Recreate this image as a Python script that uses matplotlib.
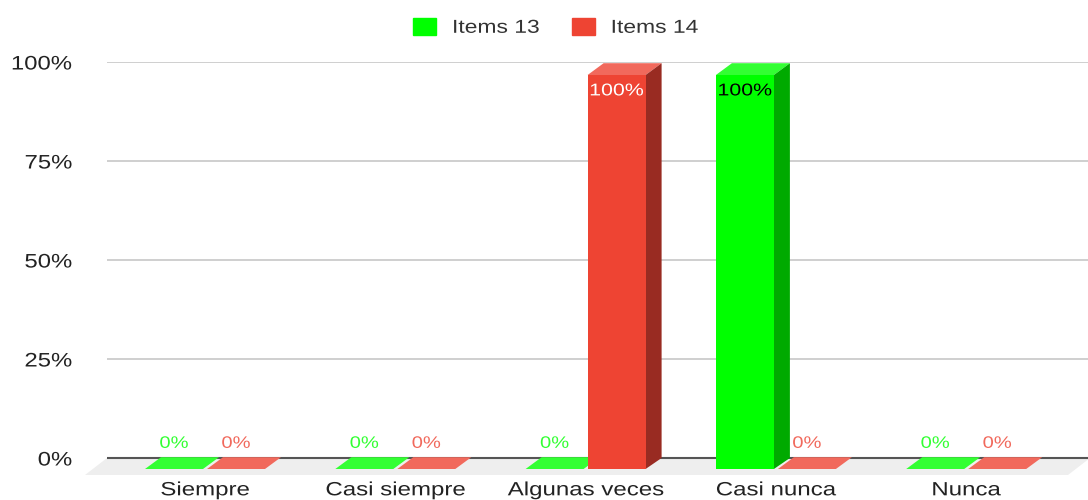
import matplotlib
matplotlib.use("Agg")
import matplotlib.pyplot as plt
from matplotlib.patches import Polygon, Patch
from matplotlib.patheffects import AbstractPathEffect
from matplotlib.transforms import Affine2D

categories = ["Siempre", "Casi siempre", "Algunas veces", "Casi nunca", "Nunca"]
items_13 = [0, 0, 0, 100, 0]
items_14 = [0, 0, 100, 0, 0]
y_ticks = [0, 25, 50, 75, 100]
y_tick_labels = ["0%", "25%", "50%", "75%", "100%"]

plt.rcParams["font.family"] = ["Liberation Sans", "DejaVu Sans"]


class Stretch(AbstractPathEffect):
    """The reference is stretched sideways, so its text is too."""

    def __init__(self, sx=1.22, anchor=0.5):
        super().__init__()
        self.sx, self.anchor = sx, anchor

    def draw_path(self, renderer, gc, tpath, affine, rgbFace=None):
        ext = tpath.get_extents()
        a = ext.x0 + self.anchor * ext.width
        t = Affine2D().translate(-a, 0).scale(self.sx, 1).translate(a, 0)
        renderer.draw_path(gc, tpath, t + affine, rgbFace)


W, H = 1088, 500
fig = plt.figure(figsize=(W / 100, H / 100), dpi=100)
L, R, T, B = 107, 1088, 62, 458
ax = fig.add_axes([L / W, 1 - B / H, (R - L) / W, (B - T) / H])

UX = 190.3                    # pixels per category
UY = (B - T) / 100            # pixels per percent
ax.set_xlim((L - 205) / UX, (R - 205) / UX)
ax.set_ylim(0, 100)

DX = 16 / UX                  # depth of the 3D effect, data units
DY = 11 / UY
BW = 58 / UX
OFF = 31 / UX
FRONT_SCALE = (469 - 75) / (B - T)

GREEN = ("#00ff00", "#33ff33", "#00aa00", "#33ff33", "black")
RED = ("#ee4433", "#f1695c", "#992b22", "#f1695c", "white")

for s in ax.spines.values():
    s.set_visible(False)
ax.set_yticks(y_ticks, y_tick_labels, fontsize=14.1, color="#222222")
ax.set_xticks(range(len(categories)), categories, fontsize=13.8, color="#222222")
ax.tick_params(axis="y", length=0, pad=25)
ax.tick_params(axis="x", length=0, pad=17.5)
for t in ax.get_yticklabels():
    t.set_path_effects([Stretch(1.22, 1.0)])
for t in ax.get_xticklabels():
    t.set_path_effects([Stretch(1.255, 0.5)])
ax.set_axisbelow(True)
ax.yaxis.grid(True, color="#cccccc", lw=1.3, zorder=0)

# floor
fx0 = (85 - 205) / UX
fx1 = (1068 - 205) / UX
fd = 17 / UY
fdx = 22 / UX
xl, xr = ax.get_xlim()
ax.add_patch(Polygon([(fx0, -fd), (fx1, -fd), (fx1 + fdx, 0), (xl, 0)],
                     closed=True, fc="#eeeeee", ec="none", clip_on=False, zorder=1))
ax.plot([xl, xr], [0, 0], color="#555555", lw=1.5, zorder=2, clip_on=False, solid_capstyle="butt")


def draw(i, v, sign, cols):
    front, top, side, lab, inner = cols
    x = i + sign * OFF
    h = v * FRONT_SCALE
    y0 = -DY
    x0, x1 = x - BW / 2, x + BW / 2
    y1 = y0 + h
    ax.bar(x, h, width=BW, bottom=y0, color=front, zorder=5, clip_on=False, lw=0)
    ax.add_patch(Polygon([(x0, y1), (x1, y1), (x1 + DX, y1 + DY + 0.2), (x0 + DX, y1 + DY + 0.2)],
                         closed=True, fc=top, ec="none", zorder=4, clip_on=False))
    if v > 0:
        ax.add_patch(Polygon([(x1, y0), (x1 + DX, y0 + DY), (x1 + DX, y1 + DY + 0.2), (x1, y1)],
                             closed=True, fc=side, ec="none", zorder=4, clip_on=False))
        ax.text(x, 92.7, f"{v}%", ha="center", va="center", fontsize=12.3, color=inner, zorder=6,
                path_effects=[Stretch(1.25, 0.5)])
    else:
        ax.text(x, 3.7, f"{v}%", ha="center", va="center", fontsize=12.0, color=lab, zorder=6,
                path_effects=[Stretch(1.21, 0.5)])


for i in range(len(categories)):
    draw(i, items_13[i], -1, GREEN)
    draw(i, items_14[i], 1, RED)

handles = [Patch(fc=GREEN[0], ec=GREEN[0], lw=1, joinstyle="round", label="Items 13"),
           Patch(fc=RED[0], ec=RED[0], lw=1, joinstyle="round", label="Items 14")]
leg = fig.legend(handles=handles, ncol=2, loc="center", bbox_to_anchor=(548 / W, 1 - 27.5 / H),
                 frameon=False, fontsize=13.5, labelcolor="#333333", handlelength=1.23, handleheight=0.96,
                 handletextpad=0.85, columnspacing=2.56)
for t in leg.get_texts():
    t.set_path_effects([Stretch(1.22, 0.0)])

fig.savefig("out.png", dpi=100)
